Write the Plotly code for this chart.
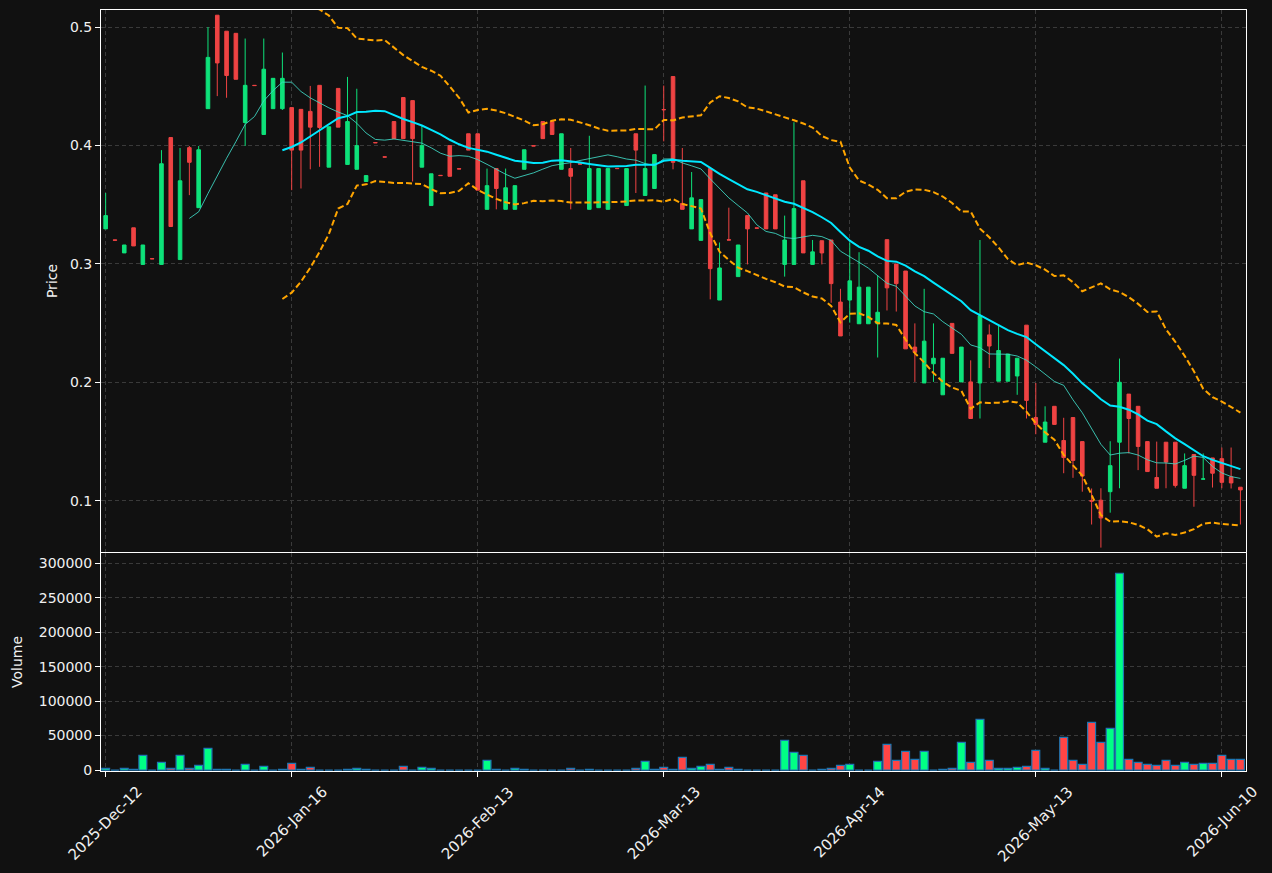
import plotly.graph_objects as go
import pandas as pd

opens = [0.3296, 0.3203, 0.3093, 0.3305, 0.2996, 0.3045, 0.2996, 0.4067, 0.3037, 0.3982,
         0.3475, 0.4311, 0.5100, 0.4965, 0.4947, 0.4194, 0.4508, 0.4093, 0.4311, 0.4311,
         0.4320, 0.4305, 0.4288, 0.4508, 0.3817, 0.4482, 0.3840, 0.3799, 0.3696, 0.4025,
         0.3904, 0.4202, 0.4405, 0.4379, 0.3817, 0.3493, 0.3748, 0.3999, 0.3804, 0.4099,
         0.4099, 0.3461, 0.3805, 0.3461, 0.3461, 0.3799, 0.3998, 0.4202, 0.4202, 0.3799,
         0.3805, 0.3845, 0.3461, 0.3475, 0.3461, 0.3807, 0.3493, 0.4099, 0.3578, 0.3637,
         0.4304, 0.4582, 0.3511, 0.3296, 0.3199, 0.3805, 0.2695, 0.3204, 0.2893, 0.3408,
         0.3304, 0.3599, 0.3584, 0.2996, 0.2996, 0.3702, 0.2996, 0.3196, 0.3202, 0.2678,
         0.2695, 0.2495, 0.2495, 0.2495, 0.3205, 0.2999, 0.2940, 0.2298, 0.1995, 0.2157,
         0.1895, 0.2498, 0.2004, 0.2004, 0.1995, 0.2401, 0.2010, 0.2010, 0.2054, 0.2483,
         0.1703, 0.1495, 0.1798, 0.1509, 0.1703, 0.1500, 0.1003, 0.1005, 0.1077, 0.1495,
         0.1901, 0.1798, 0.1500, 0.1197, 0.1495, 0.1495, 0.1106, 0.1391, 0.1183, 0.1362,
         0.1356, 0.1202, 0.1115]

highs = [0.3599, 0.3203, 0.3160, 0.3305, 0.3160, 0.3045, 0.3961, 0.4067, 0.3979, 0.3996,
         0.3996, 0.5000, 0.5100, 0.4965, 0.4947, 0.4903, 0.4508, 0.4903, 0.4567, 0.4785,
         0.4320, 0.4305, 0.4503, 0.4508, 0.4158, 0.4482, 0.4579, 0.4479, 0.3746, 0.4025,
         0.3904, 0.4202, 0.4405, 0.4379, 0.4167, 0.3761, 0.3748, 0.3999, 0.3804, 0.4099,
         0.4099, 0.3805, 0.3805, 0.3805, 0.3661, 0.3964, 0.3998, 0.4202, 0.4202, 0.4099,
         0.3979, 0.3845, 0.4082, 0.3805, 0.3805, 0.3807, 0.3805, 0.4099, 0.4506, 0.3923,
         0.4506, 0.4582, 0.3979, 0.3776, 0.3543, 0.3805, 0.3181, 0.3475, 0.3160, 0.3408,
         0.3304, 0.3599, 0.3584, 0.3408, 0.4196, 0.3702, 0.3202, 0.3196, 0.3202, 0.2790,
         0.3181, 0.3099, 0.2804, 0.2901, 0.3205, 0.2999, 0.2940, 0.2498, 0.2790, 0.2498,
         0.2204, 0.2498, 0.2298, 0.2186, 0.3202, 0.2489, 0.2489, 0.2239, 0.2204, 0.2483,
         0.1995, 0.1798, 0.1798, 0.1701, 0.1703, 0.1500, 0.1104, 0.1106, 0.1503, 0.2201,
         0.1901, 0.1798, 0.1500, 0.1500, 0.1495, 0.1495, 0.1400, 0.1391, 0.1400, 0.1362,
         0.1450, 0.1450, 0.1115]

lows = [0.3296, 0.3200, 0.3093, 0.3152, 0.2996, 0.3043, 0.2996, 0.3316, 0.3037, 0.3581,
        0.3475, 0.4311, 0.4417, 0.4403, 0.4559, 0.3996, 0.4506, 0.4093, 0.4311, 0.4300,
        0.3623, 0.3637, 0.3799, 0.3820, 0.3817, 0.4155, 0.3840, 0.3799, 0.3696, 0.4023,
        0.3902, 0.4058, 0.4058, 0.3696, 0.3817, 0.3493, 0.3746, 0.3740, 0.3802, 0.3961,
        0.3623, 0.3461, 0.3461, 0.3461, 0.3461, 0.3799, 0.3996, 0.4058, 0.4093, 0.3799,
        0.3461, 0.3843, 0.3461, 0.3475, 0.3461, 0.3805, 0.3493, 0.3599, 0.3578, 0.3637,
        0.4035, 0.3799, 0.3461, 0.3296, 0.3199, 0.2701, 0.2695, 0.3202, 0.2893, 0.2996,
        0.3302, 0.3296, 0.3296, 0.2893, 0.2996, 0.3093, 0.2996, 0.2996, 0.2672, 0.2392,
        0.2504, 0.2495, 0.2495, 0.2210, 0.2607, 0.2598, 0.2283, 0.2004, 0.1995, 0.2004,
        0.1895, 0.2245, 0.2004, 0.1695, 0.1695, 0.2121, 0.2010, 0.2010, 0.1895, 0.1695,
        0.1562, 0.1495, 0.1645, 0.1233, 0.1194, 0.1077, 0.0800, 0.0605, 0.0900, 0.1106,
        0.1400, 0.1259, 0.1247, 0.1106, 0.1106, 0.1112, 0.1106, 0.0950, 0.1183, 0.1112,
        0.1106, 0.1104, 0.0800]

closes = [0.3408, 0.3200, 0.3160, 0.3152, 0.3160, 0.3043, 0.3846, 0.3316, 0.3702, 0.3858,
          0.3964, 0.4744, 0.4697, 0.4591, 0.4559, 0.4508, 0.4506, 0.4644, 0.4567, 0.4567,
          0.3961, 0.3961, 0.4155, 0.4152, 0.4158, 0.4155, 0.4202, 0.3999, 0.3746, 0.4023,
          0.3902, 0.4058, 0.4058, 0.4058, 0.3999, 0.3761, 0.3746, 0.3740, 0.3802, 0.3961,
          0.3623, 0.3661, 0.3637, 0.3643, 0.3661, 0.3964, 0.3996, 0.4058, 0.4093, 0.4099,
          0.3740, 0.3843, 0.3805, 0.3805, 0.3805, 0.3805, 0.3805, 0.3961, 0.3805, 0.3923,
          0.4302, 0.3858, 0.3461, 0.3558, 0.3543, 0.2960, 0.2966, 0.3202, 0.3160, 0.3296,
          0.3302, 0.3296, 0.3296, 0.3202, 0.3467, 0.3093, 0.3102, 0.3093, 0.2834, 0.2392,
          0.2857, 0.2804, 0.2804, 0.2592, 0.2798, 0.2834, 0.2283, 0.2254, 0.2348, 0.2204,
          0.2204, 0.2245, 0.2298, 0.1695, 0.2563, 0.2307, 0.2269, 0.2239, 0.2204, 0.1848,
          0.1645, 0.1665, 0.1645, 0.1365, 0.1341, 0.1209, 0.0997, 0.0855, 0.1297, 0.2001,
          0.1695, 0.1459, 0.1247, 0.1106, 0.1327, 0.1130, 0.1297, 0.1215, 0.1185, 0.1233,
          0.1156, 0.1151, 0.1092]

volumes = [2400, 0, 2400, 1000, 21300, 0, 11100, 2400, 21300, 2400,
           6800, 31500, 1000, 1000, 0, 8200, 0, 5300, 0, 1000,
           9700, 1000, 3900, 0, 0, 0, 1000, 2400, 1000, 0,
           0, 0, 5300, 0, 3900, 2400, 0, 0, 0, 0,
           0, 14000, 1000, 0, 2400, 1000, 0, 0, 0, 0,
           2400, 0, 1000, 0, 0, 0, 0, 2400, 12600, 1000,
           3900, 1000, 18400, 2400, 5300, 8200, 1000, 3900, 1000, 0,
           0, 0, 0, 43100, 25700, 21300, 0, 1000, 2400, 6800,
           8200, 0, 0, 12600, 37300, 14000, 27100, 15500, 27100, 0,
           1000, 2400, 40200, 11100, 73600, 14000, 2400, 2400, 3900, 5300,
           28600, 2400, 0, 47400, 14000, 8200, 69200, 40200, 60500, 285600,
           15500, 11100, 8200, 6800, 14000, 6800, 11100, 8200, 9700, 9700,
           21300, 15500, 15500]

tick_index = [0, 20, 40, 60, 80, 100, 120]
tick_labels = ["2025-Dec-12", "2026-Jan-16", "2026-Feb-13", "2026-Mar-13",
               "2026-Apr-14", "2026-May-13", "2026-Jun-10"]

x = list(range(len(closes)))
close_s = pd.Series(closes)
ma10 = close_s.rolling(10).mean()
ma20 = close_s.rolling(20).mean()
sd20 = close_s.rolling(20).std(ddof=0)
bb_up = ma20 + 2 * sd20
bb_lo = ma20 - 2 * sd20

CANDLE_UP = "#0ee27a"
CANDLE_DN = "#ef4343"
VOL_UP = "#00ff85"
VOL_DN = "#ff4545"
vol_colors = [VOL_UP if c >= o else VOL_DN for o, c in zip(opens, closes)]

fig = go.Figure()
fig.add_trace(go.Candlestick(
    x=x, open=opens, high=highs, low=lows, close=closes,
    increasing=dict(line=dict(color=CANDLE_UP, width=1), fillcolor=CANDLE_UP),
    decreasing=dict(line=dict(color=CANDLE_DN, width=1), fillcolor=CANDLE_DN),
    whiskerwidth=0, xaxis="x", yaxis="y", showlegend=False))
fig.add_trace(go.Scatter(x=x, y=ma10, mode="lines",
                         line=dict(color="rgba(64,220,200,0.85)", width=1),
                         xaxis="x", yaxis="y", showlegend=False))
fig.add_trace(go.Scatter(x=x, y=ma20, mode="lines",
                         line=dict(color="#00e8ff", width=2),
                         xaxis="x", yaxis="y", showlegend=False))
for band in (bb_up, bb_lo):
    fig.add_trace(go.Scatter(x=x, y=band, mode="lines",
                             line=dict(color="#ffa500", width=2, dash="6px,3px"),
                             xaxis="x", yaxis="y", showlegend=False))
fig.add_trace(go.Bar(x=x, y=volumes, marker=dict(color=vol_colors,
                     line=dict(color="#1f77b4", width=1.2)),
                     width=0.85, xaxis="x2", yaxis="y2", showlegend=False))

grid = "#3a3a3a"
axis_common = dict(showline=True, linecolor="white", linewidth=1, mirror=True,
                   gridcolor=grid, griddash="4px,3px", zeroline=False,
                   tickfont=dict(family="DejaVu Sans", size=14, color="#f0f0f0"))

xr = [-0.5, 122.6]
fig.update_layout(
    width=1272, height=873,
    margin=dict(l=101, r=26, t=10, b=102),
    paper_bgcolor="#111111", plot_bgcolor="#111111",
    boxgap=0.45,
    font=dict(family="DejaVu Sans", color="#f0f0f0", size=14),
    xaxis=dict(domain=[0, 1], anchor="y", range=xr, tickvals=tick_index,
               showticklabels=False, ticks="", showgrid=True,
               rangeslider=dict(visible=False), **axis_common),
    yaxis=dict(domain=[0.2878, 1], anchor="x", range=[0.0568, 0.5144],
               tickvals=[0.1, 0.2, 0.3, 0.4, 0.5], ticktext=["0.1", "0.2", "0.3", "0.4", "0.5"],
               ticks="outside", ticklen=5, tickcolor="white", showgrid=True,
               title=dict(text="Price", standoff=9, font=dict(size=14, color="#f0f0f0")),
               **axis_common),
    xaxis2=dict(domain=[0, 1], anchor="y2", range=xr, tickvals=tick_index,
                showticklabels=False, ticks="outside", ticklen=5,
                tickcolor="white", showgrid=True, matches="x", **axis_common),
    yaxis2=dict(domain=[0, 0.2865], anchor="x2", range=[-1400, 315000],
                tickvals=[0, 50000, 100000, 150000, 200000, 250000, 300000],
                ticktext=["0", "50000", "100000", "150000", "200000", "250000", "300000"],
                ticks="outside", ticklen=5, tickcolor="white", showgrid=True,
                title=dict(text="Volume", standoff=12, font=dict(size=14, color="#f0f0f0")),
                **axis_common),
)

for xi, lab in zip(tick_index, tick_labels):
    fig.add_annotation(x=xi, xref="x2", y=0, yref="paper", text=lab,
                       textangle=-45, showarrow=False, xanchor="center", yanchor="top",
                       yshift=-9, font=dict(family="DejaVu Sans", size=15, color="#f0f0f0"))

fig.write_html("out.html")
